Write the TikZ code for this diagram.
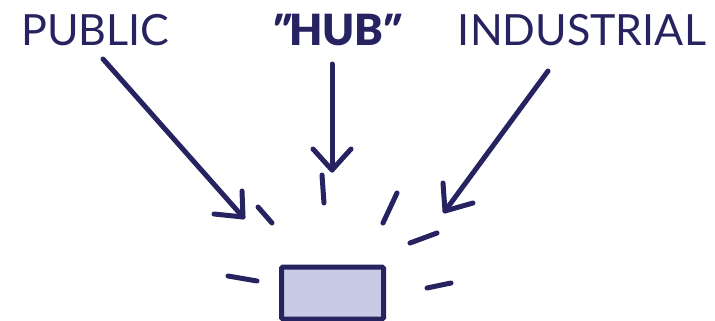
\documentclass[tikz,border=0pt]{standalone}
\usepackage{fontspec}
\setmainfont{Lato}
\newfontfamily\hubfont{Lato Black}
\newfontfamily\hubquote[FakeSlant=0.3]{Lato Black}
\definecolor{navy}{HTML}{272361}
\definecolor{lav}{HTML}{C9CAE5}
\begin{document}
\begin{tikzpicture}[x=1pt,y=-1pt,
  stroke/.style={draw=navy,line width=5pt,line cap=round,line join=round},
  label/.style={text=navy,inner sep=0pt,anchor=base,font=\fontsize{43}{43}\selectfont}]
\useasboundingbox (0,0) rectangle (715,321);
% labels
\node[label] (pub) at (95.5,46) {PUBLIC};
\node[label,font=\fontsize{43}{43}\hubfont] (hub) at (330.5,46) {{\hubquote"}\kern5pt HUB\kern-7pt{\hubquote"}};
\node[label] (ind) at (582,46) {INDUSTRIAL};
% arrow anchor points
\coordinate (p0) at (103,59);
\coordinate (p1) at (243,217);
\coordinate (h0) at (332,64);
\coordinate (h1) at (332,170);
\coordinate (i0) at (548,71);
\coordinate (i1) at (445,211);
% arrows
\draw[stroke] (p0) -- (p1);
\draw[stroke] (214,214) -- (p1) -- (242,191);
\draw[stroke] (h0) -- (h1);
\draw[stroke] (313,149) -- (h1) -- (351,149);
\draw[stroke] (i0) -- (i1);
\draw[stroke] (443,183) -- (i1) -- (473,203);
% hub box
\node[draw=navy,fill=lav,line width=5pt,rounded corners=1.5pt,minimum width=102pt,minimum height=52pt,inner sep=0pt] (box) at (332.5,293) {};
% rays
\draw[stroke] (258,207) -- (272,223);
\draw[stroke] (322,175) -- (324,203);
\draw[stroke] (397,193) -- (383,223);
\draw[stroke] (437,233) -- (410,243);
\draw[stroke] (228,276) -- (257,281);
\draw[stroke] (427,288) -- (451,283);
\end{tikzpicture}
\end{document}
